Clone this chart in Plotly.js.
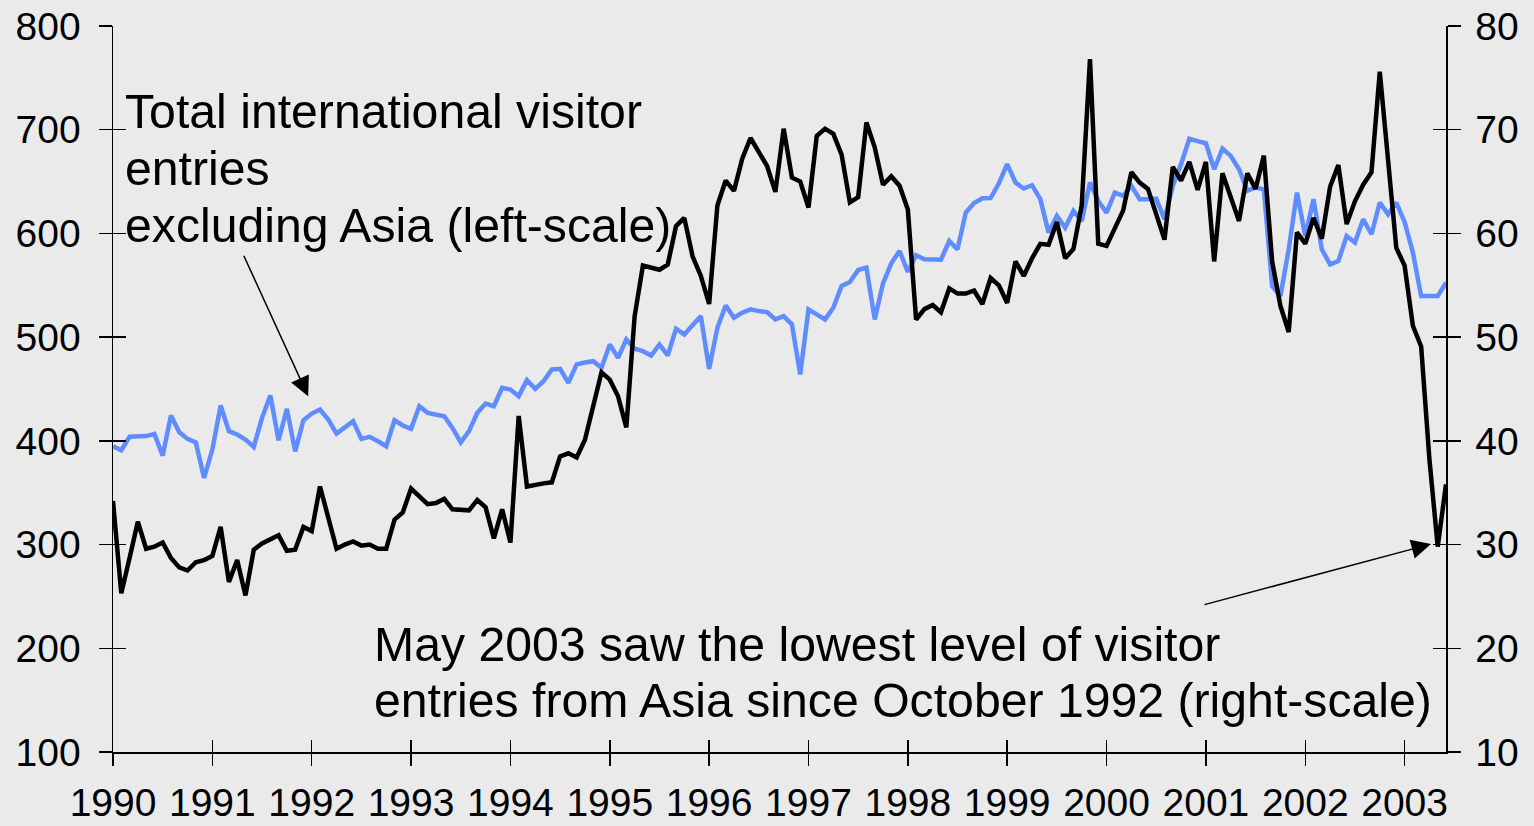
<!DOCTYPE html>
<html><head><meta charset="utf-8">
<script src="https://cdn.plot.ly/plotly-3.0.1.min.js"></script>
<style>html,body{margin:0;padding:0;background:#eaeaea;}#chart{width:1534px;height:826px;}</style>
</head><body><div id="chart"></div>
<script>
const startYear = 1990;
const monthStep = 1 / 12;
const yearTicks = [1990,1991,1992,1993,1994,1995,1996,1997,1998,1999,2000,2001,2002,2003];
const leftTicks = [100,200,300,400,500,600,700,800];
const rightTicks = [10,20,30,40,50,60,70,80];

// Total international visitor entries excluding Asia (left scale), monthly from Jan 1990
const totalExAsia = [
394.8,390.9,403.9,404.6,404.6,406.6,385.8,424.4,408.3,401.9,
398.6,364.3,391.6,434.1,409.3,406.1,401.2,394.2,422.2,443.7,
400.6,430.9,389.9,419.9,426.3,430.2,420.6,407.0,413.5,418.9,
401.9,403.9,399.6,394.8,419.9,414.8,411.6,433.4,427.0,425.4,
423.7,412.5,398.6,409.3,427.0,436.0,433.4,451.2,449.5,443.1,
458.5,450.2,457.5,468.8,469.5,456.0,473.7,475.6,476.8,470.5,
493.0,480.1,497.8,488.8,486.5,482.3,493.0,482.3,508.1,502.6,
512.3,520.3,469.5,509.1,530.6,518.7,523.6,526.8,525.1,524.2,
517.1,520.3,512.3,464.0,526.8,521.9,517.1,528.4,549.3,553.1,
564.7,567.0,517.1,551.9,571.2,583.1,563.0,578.9,575.0,574.8,
574.6,592.7,584.7,620.1,629.4,633.9,634.1,648.4,666.8,649.1,
643.3,646.5,633.0,600.8,616.9,605.6,621.7,612.0,649.1,631.3,
620.1,639.4,636.2,645.8,633.0,633.0,633.6,613.7,645.8,666.8,
691.2,689.0,687.0,661.9,681.9,674.8,661.9,641.0,644.3,642.6,
549.3,539.6,584.7,639.4,597.5,633.0,584.7,570.2,573.4,597.5,
591.2,613.7,599.2,629.8,618.5,629.8,611.1,581.5,539.6,539.6,
539.6,552.5
];

// Visitor entries from Asia (right scale), monthly from Jan 1990
const asiaEntries = [
34.2,25.3,28.7,32.2,29.6,29.8,30.2,28.7,27.8,27.5,
28.3,28.5,28.9,31.7,26.4,28.5,25.1,29.5,30.1,30.5,
30.9,29.4,29.5,31.7,31.3,35.6,32.6,29.6,30.0,30.3,
29.9,30.0,29.6,29.6,32.4,33.1,35.4,34.7,33.9,34.0,
34.4,33.4,33.4,33.3,34.3,33.6,30.6,33.4,30.2,42.4,
35.6,35.8,35.9,36.0,38.5,38.8,38.4,40.1,43.3,46.6,
45.9,44.3,41.3,52.0,56.9,56.7,56.5,57.0,60.7,61.5,
57.8,55.9,53.2,62.7,65.1,64.1,67.2,69.2,67.8,66.5,
64.0,70.1,65.4,65.0,62.5,69.4,70.1,69.6,67.6,63.0,
63.5,70.7,68.3,64.7,65.5,64.6,62.3,51.7,52.7,53.1,
52.4,54.7,54.2,54.2,54.5,53.2,55.7,55.0,53.3,57.3,
55.9,57.6,59.0,58.9,61.1,57.6,58.5,62.7,76.8,59.0,
58.8,60.6,62.2,65.9,64.9,64.3,62.0,59.4,66.4,65.1,
66.9,64.2,66.9,57.3,65.8,63.5,61.2,65.8,64.3,67.5,
57.3,53.0,50.5,60.1,59.0,61.5,59.5,64.5,66.6,60.9,
63.1,64.7,65.9,75.6,66.7,58.6,56.9,51.1,49.1,38.2,
29.8,35.8
];

const topNote = ["Total international visitor", "entries", "excluding Asia (left-scale)"];
const bottomNote = ["May 2003 saw the lowest level of visitor", "entries from Asia since October 1992 (right-scale)"];

const FONT = "'Liberation Sans', Arial, sans-serif";
const xRange = [1990, 2003.4167];

const traces = [
  {type:'scatter', mode:'lines', x0:startYear, dx:monthStep, y:totalExAsia,
   line:{color:'rgb(95,140,255)', width:4.5}, xaxis:'x', yaxis:'y', showlegend:false, hoverinfo:'skip'},
  {type:'scatter', mode:'lines', x0:startYear, dx:monthStep, y:asiaEntries,
   line:{color:'#000000', width:4.5}, xaxis:'x', yaxis:'y2', showlegend:false, hoverinfo:'skip'},
  {type:'scatter', mode:'lines', x:[startYear], y:[null], xaxis:'x2', yaxis:'y', showlegend:false, hoverinfo:'skip'},
  {type:'scatter', mode:'lines', x:[startYear], y:[null], xaxis:'x', yaxis:'y3', showlegend:false, hoverinfo:'skip'},
  {type:'scatter', mode:'lines', x:[startYear], y:[null], xaxis:'x', yaxis:'y4', showlegend:false, hoverinfo:'skip'}
];

const axBase = {showgrid:false, zeroline:false, tickcolor:'#000', tickwidth:1.5, linecolor:'#000', linewidth:1.5,
  tickfont:{family:FONT, size:39, color:'#000'}};

const annotations = [];
topNote.forEach((t, i) => annotations.push({xref:'paper', yref:'paper', x:0.0075, y:[0.883,0.805,0.726][i],
  xanchor:'left', yanchor:'middle', showarrow:false, text:t, font:{family:FONT, size:48.2, color:'#000'}}));
bottomNote.forEach((t, i) => annotations.push({xref:'paper', yref:'paper', x:0.1943, y:[0.1487,0.0716][i],
  xanchor:'left', yanchor:'middle', showarrow:false, text:t, font:{family:FONT, size:48.2, color:'#000'}}));
annotations.push({xref:'x', yref:'y', x:1991.964, y:443, ax:-65, ay:-142, text:'', showarrow:true,
  arrowhead:2, arrowsize:2.6, arrowwidth:1.5, arrowcolor:'#000', standoff:0});
annotations.push({xref:'x', yref:'y', x:2003.266, y:300.5, ax:-228, ay:61, text:'', showarrow:true,
  arrowhead:2, arrowsize:2.6, arrowwidth:1.5, arrowcolor:'#000', standoff:0});

const layout = {
  width:1534, height:826,
  margin:{l:113, r:88, t:26, b:74},
  paper_bgcolor:'#eaeaea', plot_bgcolor:'#eaeaea',
  font:{family:FONT, color:'#000'},
  xaxis:Object.assign({}, axBase, {range:xRange, tickmode:'array', tickvals:yearTicks, ticktext:yearTicks.map(String),
    ticks:'outside', ticklen:12, showline:true, anchor:'y', ticklabelstandoff:4}),
  xaxis2:Object.assign({}, axBase, {range:xRange, tickmode:'array', tickvals:yearTicks, overlaying:'x', anchor:'y', side:'bottom',
    ticks:'inside', ticklen:12, showline:false, showticklabels:false}),
  yaxis:Object.assign({}, axBase, {range:[100,800], tickmode:'array', tickvals:leftTicks, ticktext:leftTicks.map(String),
    ticks:'outside', ticklen:13, showline:true, anchor:'x', ticklabelstandoff:10}),
  yaxis2:Object.assign({}, axBase, {range:[10,80], tickmode:'array', tickvals:rightTicks, ticktext:rightTicks.map(String),
    ticks:'outside', ticklen:13, showline:true, overlaying:'y', side:'right', anchor:'x', ticklabelstandoff:7}),
  yaxis3:Object.assign({}, axBase, {range:[100,800], tickmode:'array', tickvals:leftTicks, overlaying:'y', side:'left', anchor:'x',
    ticks:'inside', ticklen:13, showline:false, showticklabels:false}),
  yaxis4:Object.assign({}, axBase, {range:[10,80], tickmode:'array', tickvals:rightTicks, overlaying:'y', side:'right', anchor:'x',
    ticks:'inside', ticklen:13, showline:false, showticklabels:false}),
  annotations:annotations
};

Plotly.newPlot('chart', traces, layout, {staticPlot:true, displayModeBar:false});
</script>
</body></html>
